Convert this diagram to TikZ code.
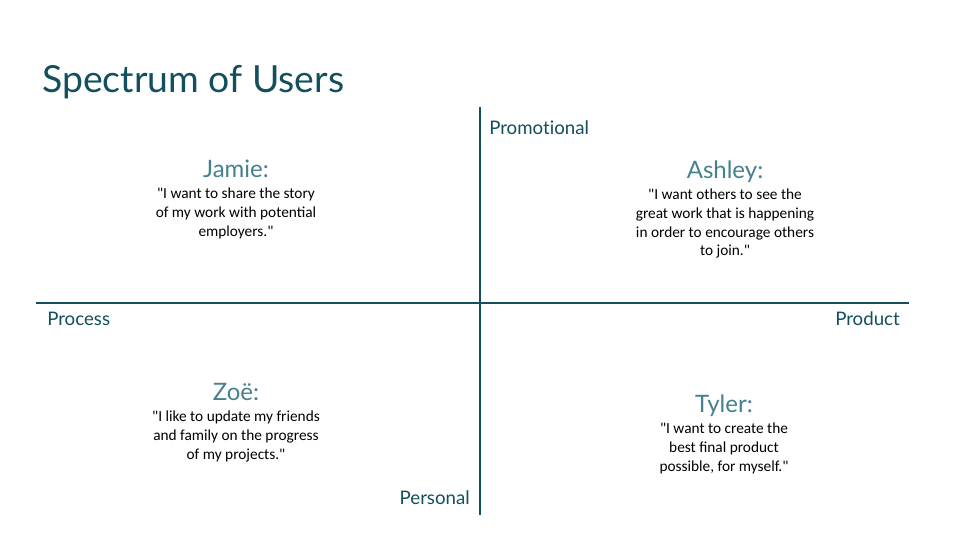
\documentclass[tikz,border=0pt]{standalone}
\usepackage{fontspec}
\setmainfont{Lato}[Ligatures=NoCommon]
\newfontfamily\quotefont{Carlito}
\usetikzlibrary{positioning}
\definecolor{darkteal}{HTML}{134F5C}
\definecolor{lightteal}{HTML}{45818E}
\begin{document}
\begin{tikzpicture}[x=0.75pt,y=-0.75pt,
  axis/.style={draw=darkteal,line width=0.9pt},
  axislabel/.style={text=darkteal,font=\fontsize{14}{17}\selectfont,inner sep=0pt},
  username/.style={text=lightteal,font=\fontsize{18}{21}\selectfont,inner sep=0pt,text depth=0pt,anchor=base},
  userquote/.style={font=\quotefont\fontsize{11.5}{14}\selectfont,align=center,inner sep=0pt,node distance=8pt}]
\useasboundingbox[fill=white] (0,0) rectangle (960,540);
\node[anchor=base west,text=darkteal,font=\fontsize{28}{34}\selectfont,inner sep=0pt] (title) at (42,92) {Spectrum of Users};
% axes
\coordinate (top) at (480,107);
\coordinate (bottom) at (480,515);
\coordinate (left) at (36,303);
\coordinate (right) at (909,303);
\draw[axis] (top) -- (bottom);
\draw[axis] (left) -- (right);
\node[axislabel,anchor=base west] (promotional) at (489,134) {Promotional};
\node[axislabel,anchor=base east] (personal) at (470,504) {Personal};
\node[axislabel,anchor=base west] (process) at (47,325) {Process};
\node[axislabel,anchor=base east] (product) at (900,325) {Product};
% users
\node[username] (jamie) at (236,177) {Jamie:};
\node[userquote,below=of jamie] (jamiequote) {"I want to share the story\\of my work with potential\\employers."};
\node[username] (ashley) at (725,178) {Ashley:};
\node[userquote,below=of ashley] (ashleyquote) {"I want others to see the\\great work that is happening\\in order to encourage others\\to join."};
\node[username] (zoe) at (236,400) {Zoë:};
\node[userquote,below=of zoe] (zoequote) {"I like to update my friends\\and family on the progress\\of my projects."};
\node[username] (tyler) at (724,412) {Tyler:};
\node[userquote,below=of tyler] (tylerquote) {"I want to create the\\best final product\\possible, for myself."};
\end{tikzpicture}
\end{document}
